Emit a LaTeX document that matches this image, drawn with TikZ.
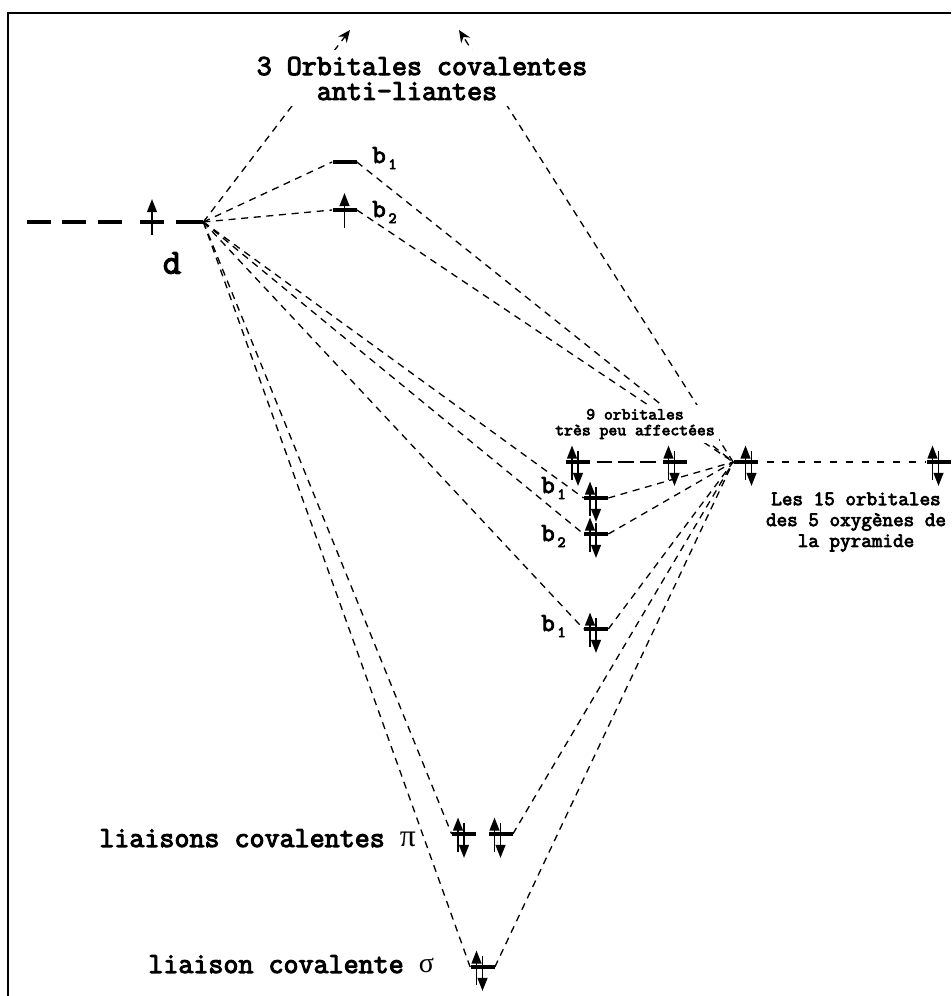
\documentclass[tikz,border=0pt]{standalone}
\usepackage{fontspec}
\newfontfamily\grec{Liberation Serif}
\newfontfamily\gras[FakeBold=3.6]{Latin Modern Mono}
\usetikzlibrary{arrows.meta}
\tikzset{
    niveau/.style={fill=black,inner sep=0pt,minimum width=0.48cm,minimum height=2pt},
    lien/.style={line width=0.75pt,dash pattern=on 4pt off 3.2pt},
    fleche/.style={line width=1pt,-{Triangle[length=7.5pt,width=5.6pt]}},
    pointe/.style={lien,-{Stealth[length=7pt,width=6pt]}},
    grand/.style={font=\gras\fontsize{16.6}{14.2}\selectfont},
    moyen/.style={font=\gras\fontsize{11.7}{11.9}\selectfont},
    petit/.style={font=\gras\fontsize{9.6}{9}\selectfont},
    sym/.style={font=\gras\fontsize{14.8}{13}\selectfont,inner sep=0pt,anchor=base west}
}
\newcommand{\orb}[1]{b\raisebox{-3.5pt}{\fontsize{9}{9}\selectfont\,#1}}
\begin{document}
\begin{tikzpicture}
    \useasboundingbox (0,0) rectangle (19.02,19.92);
    %Frame
    \coordinate (coin) at (0.16,19.66);
    \coordinate (droite) at (19.02,19.66);
    \coordinate (bas) at (0.16,0);
    \draw[line width=0.9pt] (droite) -- (coin) -- (bas);
    %Metal d levels
    \node[niveau] (dun) at (0.77,15.48) {};
    \node[niveau] (ddeux) at (1.48,15.48) {};
    \node[niveau] (dtrois) at (2.2,15.48) {};
    \node[niveau] (dquatre) at (3.04,15.48) {};
    \node[niveau,minimum width=0.54cm] (dcinq) at (3.79,15.48) {};
    %Antibonding levels
    \node[niveau] (bunh) at (6.89,16.68) {};
    \node[niveau] (bdeuxh) at (6.89,15.72) {};
    \coordinate (topg) at (7.0,19.32);
    \coordinate (topd) at (9.18,19.32);
    %Oxygen levels
    \node[niveau] (oa) at (11.56,10.68) {};
    \node[niveau] (ob) at (13.49,10.68) {};
    \node[niveau] (oc) at (14.91,10.68) {};
    \node[niveau] (od) at (18.77,10.68) {};
    %Bonding levels
    \node[niveau] (bunm) at (11.92,9.96) {};
    \node[niveau] (bdeuxm) at (11.92,9.24) {};
    \node[niveau] (bunb) at (11.92,7.34) {};
    \node[niveau] (pia) at (9.28,3.24) {};
    \node[niveau] (pib) at (10.01,3.24) {};
    \node[niveau] (sigma) at (9.65,0.58) {};
    %Links from d
    \draw[pointe] (dcinq.east) -- (topg);
    \foreach \cible in {bunh,bdeuxh,bunm,bdeuxm,bunb,pia,sigma}
        \draw[lien] (dcinq.east) -- (\cible.west);
    %Links to the oxygens
    \draw[pointe] (oc.west) -- (topd);
    \foreach \cible in {bunh,bdeuxh,bunm,bdeuxm,bunb,pib,sigma}
        \draw[lien] (\cible.east) -- (oc.west);
    \draw[lien,dash pattern=on 9pt off 3.5pt,dash phase=9pt] (oa.east) -- (ob.west);
    \draw[lien,dash pattern=on 4pt off 5pt,dash phase=4pt] (oc.east) -- (od.west);
    %Labels
    \node[grand,fill=white,align=center,inner sep=0pt,minimum height=1.12cm,minimum width=6.8cm] (titre) at (8.44,18.35) {3 Orbitales covalentes\\anti-liantes\phantom{xx}};
    \node[petit,fill=white,align=center,inner sep=2.5pt] (neuf) at (12.7,11.44) {9 orbitales\\très peu affectées};
    \node[moyen,align=center] (quinze) at (17.12,9.48) {Les 15 orbitales\\des 5 oxygènes de\\la pyramide};
    \node[font=\gras\fontsize{20}{20}\selectfont] (nomd) at (3.44,14.66) {d};
    \node[sym] (lbunh) at (7.44,16.66) {\orb{1}};
    \node[sym] (lbdeuxh) at (7.44,15.58) {\orb{2}};
    \node[sym] (lbunm) at (10.82,10.06) {\orb{1}};
    \node[sym] (lbdeuxm) at (10.82,9.1) {\orb{2}};
    \node[sym] (lbunb) at (10.82,7.3) {\orb{1}};
    \node[grand,anchor=base west,inner sep=0pt] (lpi) at (1.98,2.98) {liaisons covalentes {\grec\fontsize{18}{18}\selectfont π}};
    \node[grand,anchor=base west,inner sep=0pt] (lsigma) at (2.96,0.46) {liaison covalente {\grec\fontsize{16}{16}\selectfont σ}};
    %Spins
    \draw[fleche] ([shift={(0,-0.26)}]dquatre.center) -- ([shift={(0,0.46)}]dquatre.center);
    \draw[fleche] ([shift={(0,-0.36)}]bdeuxh.center) -- ([shift={(0,0.34)}]bdeuxh.center);
    \foreach \niv/\dx in {oa/0,ob/0,oc/0.12,od/0,bunm/0,bdeuxm/0,bunb/0,pia/0,pib/0,sigma/0} {
        \draw[fleche] ([shift={(\dx-0.12,-0.36)}]\niv.center) -- ([shift={(\dx-0.12,0.33)}]\niv.center);
        \draw[fleche] ([shift={(\dx,0.22)}]\niv.center) -- ([shift={(\dx,-0.48)}]\niv.center);
    }
\end{tikzpicture}
\end{document}
